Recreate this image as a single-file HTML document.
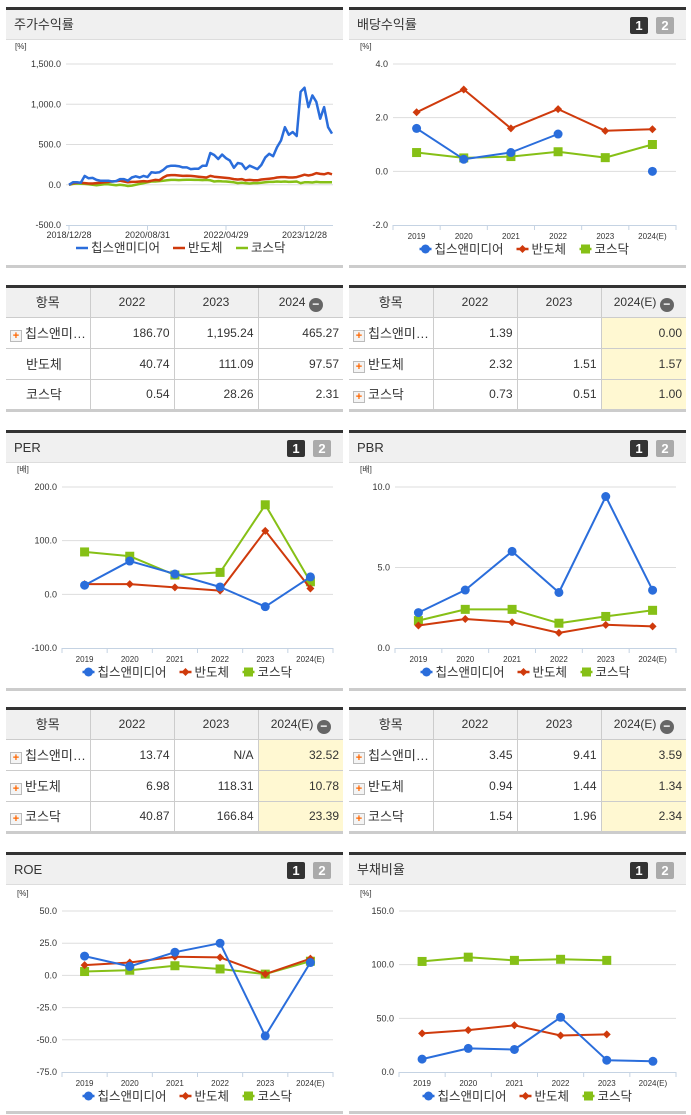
<!DOCTYPE html>
<html><head><meta charset="utf-8">
<style>
*{margin:0;padding:0;box-sizing:border-box}
body{width:691px;height:1115px;position:relative;background:#fff;font-family:"Liberation Sans","Noto Sans CJK KR",sans-serif;overflow:hidden;color:#333}
.panel{position:absolute;border-top:3px solid #333;border-bottom:3px solid #ccc}
.ph{height:30px;background:#f0f0f0;border-bottom:1px solid #ddd;font-size:13px;line-height:30px;padding-left:8px;color:#333;position:relative}
.b1,.b2{position:absolute;top:7px;width:18px;height:17px;border-radius:2px;color:#fff;font-weight:bold;font-size:13px;line-height:17px;text-align:center}
.b1{background:#333}.b2{background:#aaa}
table{position:absolute;border-collapse:collapse;border-top:3px solid #333;border-bottom:3px solid #ccc;table-layout:fixed}
td,th{border:1px solid #ccc;height:31px;font-size:12px;font-weight:normal;white-space:nowrap;overflow:hidden;padding:0;line-height:29px}
th{background:#f0f0f0;font-size:12px}
th:first-child{font-size:13px}
tr td:first-child,tr th:first-child{border-left:none}
tr td:last-child,tr th:last-child{border-right:none}
td{text-align:right;padding-right:4px}
td.n{text-align:left;font-size:13px;padding-left:4px;text-overflow:clip}
td.n.np{padding-left:20px}
.hl{background:#fff8d2}
.pl{display:inline-block;width:12px;height:12px;border:1px solid #bbb;background:#f4f4f4;color:#f60;font-size:11px;line-height:10px;text-align:center;font-weight:bold;vertical-align:-1px;margin-right:3px}
.mn{display:inline-block;width:14px;height:14px;border-radius:7px;background:#666;color:#fff;line-height:13px;text-align:center;font-weight:bold;font-size:12px;vertical-align:-2px}
svg{position:absolute;left:0;top:0}
</style></head><body>

<div class="panel" style="left:6px;top:7px;width:337px;height:261px"><div class="ph">주가수익률</div></div>
<div class="panel" style="left:349px;top:7px;width:337px;height:261px"><div class="ph">배당수익률<span class="b1" style="left:281px">1</span><span class="b2" style="left:307px">2</span></div></div>
<div class="panel" style="left:6px;top:430px;width:337px;height:261px"><div class="ph">PER<span class="b1" style="left:281px">1</span><span class="b2" style="left:307px">2</span></div></div>
<div class="panel" style="left:349px;top:430px;width:337px;height:261px"><div class="ph">PBR<span class="b1" style="left:281px">1</span><span class="b2" style="left:307px">2</span></div></div>
<div class="panel" style="left:6px;top:852px;width:337px;height:262px"><div class="ph">ROE<span class="b1" style="left:281px">1</span><span class="b2" style="left:307px">2</span></div></div>
<div class="panel" style="left:349px;top:852px;width:337px;height:262px"><div class="ph">부채비율<span class="b1" style="left:281px">1</span><span class="b2" style="left:307px">2</span></div></div>

<table style="left:6px;top:285px;width:337px">
<colgroup><col style="width:84px"><col style="width:84px"><col style="width:84px"><col style="width:85px"></colgroup>
<tr><th>항목</th><th>2022</th><th>2023</th><th>2024 <span class="mn">−</span></th></tr>
<tr><td class="n"><span class="pl">+</span>칩스앤미…</td><td>186.70</td><td>1,195.24</td><td>465.27</td></tr>
<tr><td class="n np">반도체</td><td>40.74</td><td>111.09</td><td>97.57</td></tr>
<tr><td class="n np">코스닥</td><td>0.54</td><td>28.26</td><td>2.31</td></tr>
</table>
<table style="left:349px;top:285px;width:337px">
<colgroup><col style="width:84px"><col style="width:84px"><col style="width:84px"><col style="width:85px"></colgroup>
<tr><th>항목</th><th>2022</th><th>2023</th><th>2024(E) <span class="mn">−</span></th></tr>
<tr><td class="n"><span class="pl">+</span>칩스앤미…</td><td>1.39</td><td></td><td class="hl">0.00</td></tr>
<tr><td class="n"><span class="pl">+</span>반도체</td><td>2.32</td><td>1.51</td><td class="hl">1.57</td></tr>
<tr><td class="n"><span class="pl">+</span>코스닥</td><td>0.73</td><td>0.51</td><td class="hl">1.00</td></tr>
</table>
<table style="left:6px;top:707px;width:337px">
<colgroup><col style="width:84px"><col style="width:84px"><col style="width:84px"><col style="width:85px"></colgroup>
<tr><th>항목</th><th>2022</th><th>2023</th><th>2024(E) <span class="mn">−</span></th></tr>
<tr><td class="n"><span class="pl">+</span>칩스앤미…</td><td>13.74</td><td>N/A</td><td class="hl">32.52</td></tr>
<tr><td class="n"><span class="pl">+</span>반도체</td><td>6.98</td><td>118.31</td><td class="hl">10.78</td></tr>
<tr><td class="n"><span class="pl">+</span>코스닥</td><td>40.87</td><td>166.84</td><td class="hl">23.39</td></tr>
</table>
<table style="left:349px;top:707px;width:337px">
<colgroup><col style="width:84px"><col style="width:84px"><col style="width:84px"><col style="width:85px"></colgroup>
<tr><th>항목</th><th>2022</th><th>2023</th><th>2024(E) <span class="mn">−</span></th></tr>
<tr><td class="n"><span class="pl">+</span>칩스앤미…</td><td>3.45</td><td>9.41</td><td class="hl">3.59</td></tr>
<tr><td class="n"><span class="pl">+</span>반도체</td><td>0.94</td><td>1.44</td><td class="hl">1.34</td></tr>
<tr><td class="n"><span class="pl">+</span>코스닥</td><td>1.54</td><td>1.96</td><td class="hl">2.34</td></tr>
</table>

<svg id="chart" width="691" height="1115"></svg>

<script>
// ---- data ----
const years = ["2019","2020","2021","2022","2023","2024(E)"];
const seriesNames = ["칩스앤미디어","반도체","코스닥"];
const stockDates = ["2018/12/28","2020/08/31","2022/04/29","2023/12/28"];
const stockDateIdx = [0,20,40,60];
const stockChips = [0,30,30,25,110,80,85,60,50,50,50,40,45,70,70,50,90,105,90,110,95,155,150,155,185,225,237,237,230,215,215,195,200,200,237,237,395,370,320,375,330,300,210,270,260,195,237,215,195,245,340,385,355,465,550,715,620,655,605,1155,1205,965,1110,1030,820,965,715,635];
const stockSemi = [0,20,25,25,20,15,15,20,25,30,35,40,45,50,40,30,35,35,40,45,40,50,60,55,90,115,120,120,115,110,112,110,105,100,95,90,110,100,95,90,85,80,70,65,70,55,60,55,55,65,70,75,80,90,95,95,90,90,95,110,125,115,125,145,135,130,145,130];
const stockKosdaq = [0,10,15,12,10,5,0,-5,0,5,5,0,-5,0,-5,-15,-10,0,10,20,30,40,40,45,50,55,60,60,58,60,62,62,60,60,58,60,55,40,45,42,40,35,30,20,25,20,15,20,20,25,30,35,35,40,38,40,35,38,40,20,30,32,28,35,32,30,32,30];
const stockTicks = [1500,1000,500,0,-500];

const divChips = [1.6,0.45,0.7,1.39,null,0.0];
const divSemi = [2.2,3.05,1.6,2.32,1.51,1.57];
const divKosdaq = [0.7,0.5,0.55,0.73,0.51,1.0];
const divTicks = [4,2,0,-2];

const perChips = [17,62,38,13.74,-23,32.52];
const perSemi = [19,19,13,6.98,118.31,10.78];
const perKosdaq = [79,71,36,40.87,166.84,23.39];
const perTicks = [200,100,0,-100];

const pbrChips = [2.2,3.6,6.0,3.45,9.41,3.59];
const pbrSemi = [1.4,1.8,1.6,0.94,1.44,1.34];
const pbrKosdaq = [1.7,2.4,2.4,1.54,1.96,2.34];
const pbrTicks = [10,5,0];

const roeChips = [15,7,18,25,-47,10];
const roeSemi = [8,10,14.5,14,1,13];
const roeKosdaq = [3,4,7.5,5,1,11];
const roeTicks = [50,25,0,-25,-50,-75];

const debtChips = [12,22,21,51,11,10];
const debtSemi = [36,39,43.5,34,35,null];
const debtKosdaq = [103,107,104,105,104,null];
const debtTicks = [150,100,50,0];

const COLORS = ["#2a6ddb","#cf3a0c","#86c016"];
const NS = "http://www.w3.org/2000/svg";
const svg = document.getElementById("chart");
function mk(tag, attrs, parent){const e=document.createElementNS(NS,tag);for(const k in attrs)e.setAttribute(k,attrs[k]);(parent||svg).appendChild(e);return e;}
function txt(x,y,s,size,anchor,parent){const t=mk("text",{x:x,y:y,"font-size":size,"text-anchor":anchor||"start",fill:"#333","font-family":"Liberation Sans, Noto Sans CJK KR, sans-serif"},parent);t.textContent=s;return t;}

function marker(g,kind,x,y,c){
  let m;
  if(kind===0) m=mk("circle",{cx:x,cy:y,r:4.5,fill:c},g);
  else if(kind===1) m=mk("polygon",{points:(x)+","+(y-4)+" "+(x+4)+","+y+" "+(x)+","+(y+4)+" "+(x-4)+","+y,fill:c},g);
  else m=mk("rect",{x:x-4.5,y:y-4.5,width:9,height:9,fill:c},g);
  return m;
}

function frame(name,left,right,top,bot,ticks,unit,fmt,unitX){
  const g=mk("g",{});
  
  
  const mx=ticks[0], mn=ticks[ticks.length-1];
  const ys=v=>top+(mx-v)/(mx-mn)*(bot-top);
  const u=txt(unitX,top-15,unit,8,"start",g);
  
  
  ticks.forEach(t=>{
    if(t!==mn){const l=mk("line",{x1:left,x2:right,y1:ys(t),y2:ys(t),stroke:"#ddd","stroke-width":1},g);
      
      }
    const tl=txt(left-5,ys(t)+3,fmt(t),9,"end",g);
    
    
  });
  const ax=mk("line",{x1:left,x2:right,y1:bot+0.5,y2:bot+0.5,stroke:"#c5d3e3","stroke-width":1},g);
  
  
  return {g,ys};
}
function legend(cx,y){
  const g=mk("g",{});
  
  
  const widths=[72,38,38];
  let x=cx-101;
  seriesNames.forEach((n,i)=>{
    const e=mk("g",{},g);
    
    
    mk("line",{x1:x,x2:x+12,y1:y,y2:y,stroke:COLORS[i],"stroke-width":2.5},e);
    marker(e,i,x+6,y,COLORS[i]);
    txt(x+15,y+4.5,n,12.5,"start",e);
    x+=15+widths[i]+10;
  });
}
function line(g,pts,c,name,kind,sw){
  let d="";let pen=false;
  pts.forEach(p=>{if(p==null){pen=false;return;} d+=(pen?"L":"M")+p[0].toFixed(1)+","+p[1].toFixed(1);pen=true;});
  const pth=mk("path",{d:d,fill:"none",stroke:c,"stroke-width":sw||2,"stroke-linejoin":"round"},g);
  
  
  if(kind!=null) pts.forEach(p=>{if(p){const m=marker(g,kind,p[0],p[1],c);
    
    }});
}
function catChart(name,left,right,top,bot,ticks,unit,fmt,unitX,data){
  const {g,ys}=frame(name,left,right,top,bot,ticks,unit,fmt,unitX);
  const bw=(right-left)/years.length;
  const xs=i=>left+bw*(i+0.5);
  for(let i=0;i<=years.length;i++){mk("line",{x1:left+bw*i,x2:left+bw*i,y1:bot,y2:bot+5,stroke:"#c5d3e3"},g);}
  years.forEach((y,i)=>{const t=txt(xs(i),bot+14,y,8,"middle",g);
    
    });
  const nm=["chips","semi","kosdaq"];
  [2,1,0].forEach(k=>{
    line(g,data[k].map((v,i)=>v==null?null:[xs(i),ys(v)]),COLORS[k],nm[k],k);
  });
  legend((left+right)/2-14,bot+24);
}
const f1=v=>v.toFixed(1);
const fc=v=>(v<0?"-":"")+Math.abs(v).toLocaleString("en-US",{minimumFractionDigits:1,maximumFractionDigits:1});

// stock chart
(function(){
  const left=66,right=333,top=64,bot=225;
  const {g,ys}=frame("stock-return-chart",left,right,top,bot,stockTicks,"[%]",fc,15);
  const n=stockChips.length;
  const xs=i=>left+3+i*(right-left-4)/(n-1);
  stockDates.forEach((d,k)=>{const x=xs(stockDateIdx[k]);
    mk("line",{x1:x,x2:x,y1:bot,y2:bot+5,stroke:"#c5d3e3"},g);
    const t=txt(x,bot+13,d,9,"middle",g);
    
    });
  line(g,stockKosdaq.map((v,i)=>[xs(i),ys(v)]),COLORS[2],"kosdaq",null,2.5);
  line(g,stockSemi.map((v,i)=>[xs(i),ys(v)]),COLORS[1],"semi",null,2.5);
  line(g,stockChips.map((v,i)=>[xs(i),ys(v)]),COLORS[0],"chips",null,2.5);
  const lg=mk("g",{});
  
  
  let x=76;const w=[72,38,38];
  seriesNames.forEach((nme,i)=>{mk("line",{x1:x,x2:x+12,y1:248,y2:248,stroke:COLORS[i],"stroke-width":2.5},lg);txt(x+15,252,nme,12.5,"start",lg);x+=15+w[i]+10;});
})();
catChart("dividend-chart",393,676,64,225,divTicks,"[%]",f1,360,[divChips,divSemi,divKosdaq]);
catChart("per-chart",62,333,487,648,perTicks,"[배]",f1,17,[perChips,perSemi,perKosdaq]);
catChart("pbr-chart",395,676,487,648,pbrTicks,"[배]",f1,360,[pbrChips,pbrSemi,pbrKosdaq]);
catChart("roe-chart",62,333,911,1072,roeTicks,"[%]",f1,17,[roeChips,roeSemi,roeKosdaq]);
catChart("debt-chart",399,676,911,1072,debtTicks,"[%]",f1,360,[debtChips,debtSemi,debtKosdaq]);
</script>
</body></html>
